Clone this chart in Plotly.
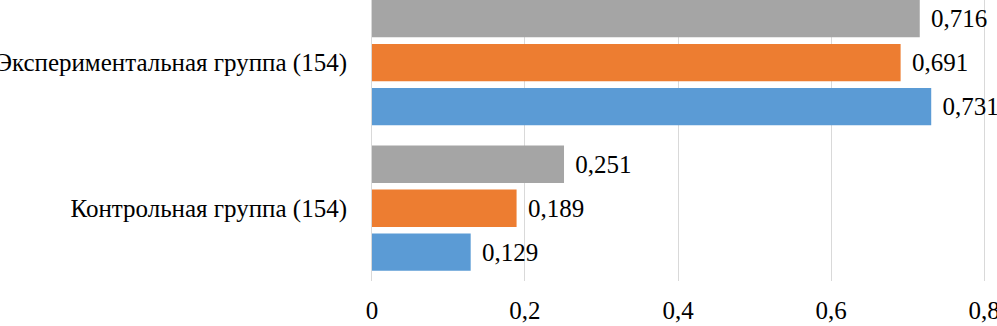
import plotly.graph_objects as go

categories = ["Контрольная группа (154)", "Экспериментальная группа (154)"]
series_names = ["Ряд 1", "Ряд 2", "Ряд 3"]
blue_vals = [0.129, 0.731]
orange_vals = [0.189, 0.691]
gray_vals = [0.251, 0.716]
x_ticks = [0, 0.2, 0.4, 0.6, 0.8]
x_tick_labels = ["0", "0,2", "0,4", "0,6", "0,8"]

colors = ["#5B9BD5", "#ED7D31", "#A5A5A5"]
FONT = "Liberation Serif, Times New Roman, serif"
FS = 25

fig = go.Figure()
for name, vals, col in zip(series_names, [blue_vals, orange_vals, gray_vals], colors):
    fig.add_trace(go.Bar(
        y=categories, x=vals, name=name, orientation="h",
        marker=dict(color=col, line=dict(width=0)),
        text=[" \u200a" + f"{v:.3f}".replace(".", ",") for v in vals],
        textposition="outside", cliponaxis=False,
        textfont=dict(family=FONT, size=FS, color="#000000"),
    ))

fig.update_layout(
    width=997, height=326,
    margin=dict(l=370, r=11, t=0, b=45),
    paper_bgcolor="white", plot_bgcolor="white",
    barmode="group", bargap=0.094, bargroupgap=0.15,
    showlegend=False,
    font=dict(family=FONT, size=FS, color="#000000"),
    xaxis=dict(range=[-0.0026, 0.8026], tickvals=x_ticks, ticktext=x_tick_labels,
               showgrid=True, gridcolor="#D9D9D9", gridwidth=1,
               zeroline=False, showline=False, ticks="", ticklabelstandoff=12,
               ticklabeloverflow="allow", automargin=False,
               tickfont=dict(family=FONT, size=FS, color="#000000")),
    yaxis=dict(type="category", range=[-0.5, 1.43], showgrid=False,
               zeroline=False, showline=False, ticks="", ticklabelstandoff=22,
               automargin=False,
               tickfont=dict(family=FONT, size=FS, color="#000000")),
)

fig.write_html("out.html", config={"displayModeBar": False},
               post_script="document.body.style.margin='0';")
